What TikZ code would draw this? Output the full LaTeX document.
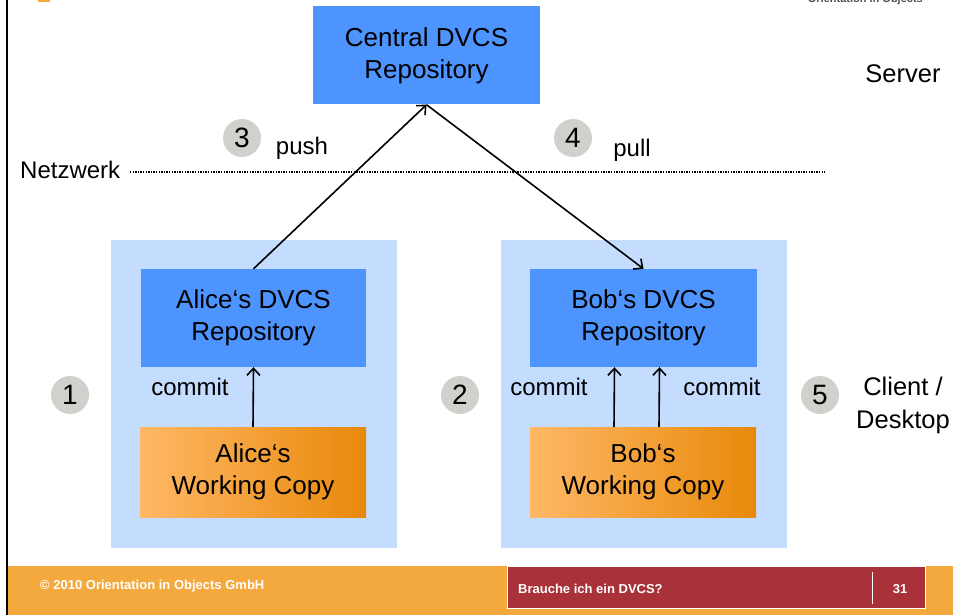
\documentclass[tikz,border=0pt]{standalone}
\usepackage{fontspec}
\setmainfont{Liberation Sans}
\usetikzlibrary{arrows.meta}
\definecolor{repoblue}{HTML}{4D94FF}
\definecolor{clientbg}{HTML}{C4DCFE}
\definecolor{circgray}{HTML}{D0D0CC}
\definecolor{footorange}{HTML}{F4A93F}
\definecolor{footred}{HTML}{A9323A}
\definecolor{wclight}{HTML}{FFB866}
\definecolor{wcdark}{HTML}{E8890A}
\begin{document}
\begin{tikzpicture}[x=1pt,y=-1pt,
  repo/.style={fill=repoblue, draw=none, minimum width=227pt, minimum height=98pt, align=center, inner sep=0pt, font=\fontsize{26}{32}\selectfont},
  wc/.style={left color=wclight, right color=wcdark, draw=none, minimum width=226pt, minimum height=90pt, align=center, inner sep=0pt, font=\fontsize{26}{32}\selectfont},
  clientbox/.style={fill=clientbg, draw=none, minimum width=286pt, minimum height=308pt, inner sep=0pt},
  numcirc/.style={circle, fill=circgray, draw=none, minimum size=38pt, inner sep=0pt, font=\fontsize{28}{32}\selectfont},
  lbl/.style={font=\fontsize{24}{29}\selectfont, inner sep=0pt, align=center},
  biglbl/.style={font=\fontsize{25.5}{33}\selectfont, inner sep=0pt, align=center},
  arr/.style={line width=1.6pt, -{Straight Barb[length=7pt,width=13pt,line width=1.6pt]}},
  foot/.style={font=\fontsize{13}{15}\selectfont\bfseries, text=white, inner sep=0pt}
]
\useasboundingbox (0,0) rectangle (953,615);
% header bits
\fill[footorange] (38,0) rectangle (50,2.5);
\node[anchor=base east, font=\fontsize{11}{13}\selectfont\bfseries, text=black!70, inner sep=0pt] (hdr) at (923,3) {Orientation in Objects};
\draw[line width=2pt] (7,0) -- (7,615);
% client areas
\node[clientbox] (leftarea) at (254,394) {};
\node[clientbox] (rightarea) at (643.5,394) {};
% boxes
\node[repo] (central) at (426.5,55.5) {Central DVCS\\Repository};
\node[repo, minimum width=225pt] (alicerepo) at (253.5,318) {Alice‘s DVCS\\Repository};
\node[repo] (bobrepo) at (643.5,318) {Bob‘s DVCS\\Repository};
\node[wc] (alicewc) at (253,472) {Alice‘s\\Working Copy};
\node[wc] (bobwc) at (643,472) {Bob‘s\\Working Copy};
% network line
\node[lbl, anchor=west] (netz) at (20,170) {Netzwerk};
\coordinate (netL) at (130,172);
\coordinate (netR) at (825,172);
\draw[line width=1.3pt, dash pattern=on 1.3pt off 1.3pt] (netL) -- (netR);
% labels
\node[biglbl] (server) at (903,74) {Server};
\node[biglbl] (client) at (903,405) {Client /\\Desktop};
\node[numcirc] (c1) at (70,395) {1};
\node[numcirc] (c2) at (460,395) {2};
\node[numcirc] (c3) at (242,138) {3};
\node[numcirc] (c4) at (573,138) {4};
\node[numcirc] (c5) at (820,395) {5};
\node[lbl] (push) at (302,148) {push};
\node[lbl] (pull) at (632,150) {pull};
\node[lbl] (commitA) at (190,387) {commit};
\node[lbl] (commitB1) at (549,387) {commit};
\node[lbl] (commitB2) at (722,387) {commit};
% arrows
\draw[arr] (alicerepo.north) -- (central.south);
\draw[arr] (central.south) -- (bobrepo.north);
\draw[arr] (alicewc.north) -- (alicerepo.south);
\draw[arr] ([xshift=-29pt]bobwc.north) -- ([xshift=-29pt]bobrepo.south);
\draw[arr] ([xshift=16pt]bobwc.north) -- ([xshift=16pt]bobrepo.south);
% footer
\fill[footorange] (8,566) rectangle (953,615);
\node[foot, anchor=west] (copy) at (40,586) {© 2010 Orientation in Objects GmbH};
\node[fill=footred, draw=white, line width=0.8pt, minimum width=418pt, minimum height=42pt, inner sep=0pt] (redbar) at (716,587) {};
\node[foot, anchor=west] (title) at (518,589) {Brauche ich ein DVCS?};
\node[foot] (page) at (900,589) {31};
\coordinate (divT) at (872,572);
\coordinate (divB) at (872,604);
\draw[white, line width=1pt] (divT) -- (divB);
\end{tikzpicture}
\end{document}
